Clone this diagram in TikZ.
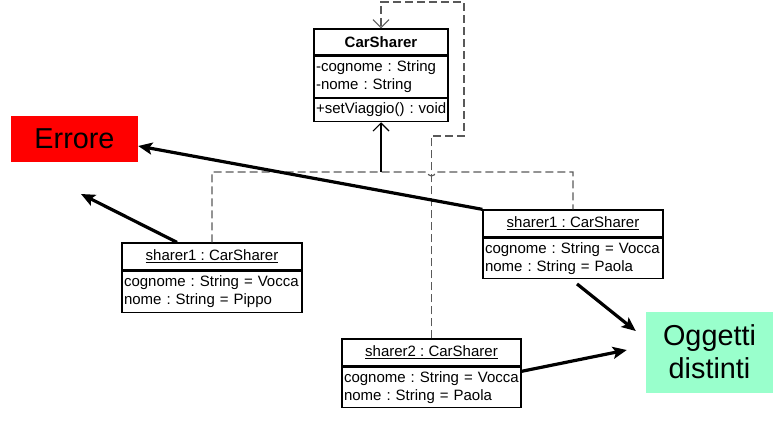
\documentclass[tikz,border=0pt]{standalone}
\usepackage{fontspec}
\setmainfont{Liberation Sans}
\usetikzlibrary{positioning,arrows.meta}
\definecolor{mint}{HTML}{99FFCC}
\frenchspacing
\newcommand{\attrline}[1]{\mbox{#1}}
\tikzset{
  umltext/.style={font=\fontsize{15}{18}\selectfont},
  hdr/.style={draw,line width=1.3pt,umltext,minimum height=27pt,inner sep=0pt},
  attr/.style={draw,line width=1.3pt,umltext,align=left,inner xsep=2pt,inner ysep=0pt},
  note/.style={font=\fontsize{28.8}{33}\selectfont,minimum width=127pt,align=center},
  dep/.style={draw=black!65,line width=1.1pt,dash pattern=on 8pt off 4pt},
  opentip/.style={-{Straight Barb[length=8pt,width=16pt,line width=1.1pt]}},
  link/.style={line width=3.2pt,-{Stealth[length=14pt,width=12pt,inset=3pt]}}
}
\begin{document}
\begin{tikzpicture}[x=1pt,y=-1pt]
  \useasboundingbox (0,0) rectangle (783,425);
  % class
  \node[hdr,minimum width=134pt,minimum height=26pt] (car) at (381,42) {\bfseries CarSharer};
  \node[attr,text width=130pt,minimum height=41pt,below=0pt of car] (carattr)
    {\attrline{-cognome : String}\\\attrline{-nome : String}};
  \node[attr,text width=130pt,minimum height=23pt,below=0pt of carattr] (carop)
    {\attrline{+setViaggio() : void}};
  % objects
  \node[hdr,minimum width=180pt] (s1) at (212,256.5) {\underline{sharer1 : CarSharer}};
  \node[attr,text width=176pt,minimum height=41pt,below=0pt of s1] (s1attr)
    {\attrline{cognome : String = Vocca}\\\attrline{nome : String = Pippo}};
  \node[hdr,minimum width=180pt] (s1r) at (573,223.5) {\underline{sharer1 : CarSharer}};
  \node[attr,text width=176pt,minimum height=40pt,below=0pt of s1r] (s1rattr)
    {\attrline{cognome : String = Vocca}\\\attrline{nome : String = Paola}};
  \node[hdr,minimum width=179pt] (s2) at (431.5,352.5) {\underline{sharer2 : CarSharer}};
  \node[attr,text width=175pt,minimum height=40pt,below=0pt of s2] (s2attr)
    {\attrline{cognome : String = Vocca}\\\attrline{nome : String = Paola}};
  % notes
  \node[note,fill=red,minimum height=46pt] (err) at (74.5,139) {Errore};
  \node[note,fill=mint,minimum height=81pt] (ogg) at (709.5,352) {Oggetti\\distinti};
  % instance-of links
  \coordinate (join) at (381,172);
  \coordinate (hopL) at ([xshift=-4pt]s2.north |- join);
  \coordinate (loopA) at (464,136);
  \coordinate (loopB) at (464,2);
  \draw[dep] (s1.north) |- (hopL) arc (180:0:4) -| (s1r.north);
  \draw[black,line width=1.1pt,opentip] (join) -- (carop.south);
  \draw[dep,opentip] (s2.north) |- (loopA) -- (loopB) -| (car.north);
  % remarks
  \coordinate (lost) at (81,194);
  \draw[link] (s1r.north west) -- ([yshift=-7pt]err.east);
  \draw[link] ([xshift=-35pt]s1.north) -- (lost);
  \draw[link] ([xshift=4pt,yshift=-5pt]s1rattr.south) -- ([xshift=-10pt,yshift=21pt]ogg.west);
  \draw[link] ([yshift=16pt]s2attr.east) -- ([xshift=-19pt,yshift=2pt]ogg.west);
\end{tikzpicture}
\end{document}
